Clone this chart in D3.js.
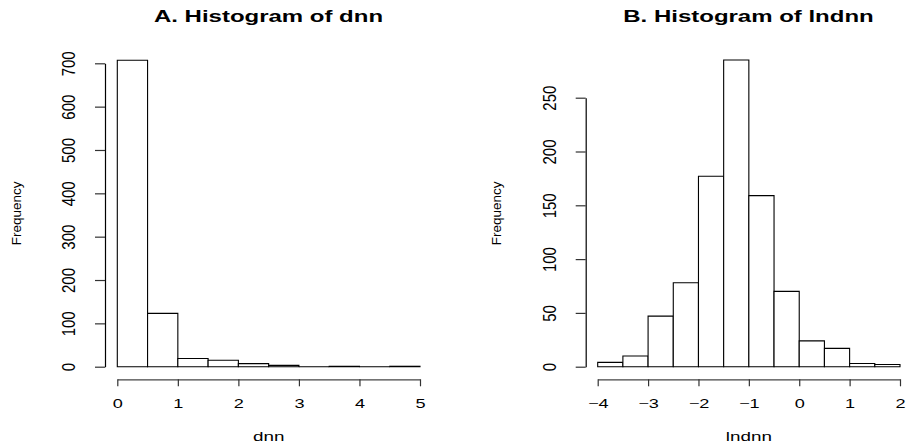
<!DOCTYPE html>
<html>
<head>
<meta charset="utf-8">
<script src="https://cdn.jsdelivr.net/npm/d3@7"></script>
<style>
  html, body { margin: 0; padding: 0; background: #fff; }
  svg { display: block; }
  text { font-family: "Liberation Sans", Arial, Helvetica, sans-serif; fill: #000; }
</style>
</head>
<body>
<svg id="chart" width="907" height="444"></svg>
<script>
// Histogram counts, bin width 0.5
const dnnBreaks = [0, 0.5, 1, 1.5, 2, 2.5, 3, 3.5, 4, 4.5, 5];
const dnnCounts = [707, 123, 19, 15, 7, 3, 0, 1, 0, 1];
const dnnXTicks = [0, 1, 2, 3, 4, 5];
const dnnYTicks = [0, 100, 200, 300, 400, 500, 600, 700];

const lndnnBreaks = [-4, -3.5, -3, -2.5, -2, -1.5, -1, -0.5, 0, 0.5, 1, 1.5, 2];
const lndnnCounts = [4, 10, 47, 78, 177, 285, 159, 70, 24, 17, 3, 2];
const lndnnXTicks = [-4, -3, -2, -1, 0, 1, 2];
const lndnnYTicks = [0, 50, 100, 150, 200, 250];

const panels = [
  {
    title: "A. Histogram of dnn", xlab: "dnn", ylab: "Frequency",
    breaks: dnnBreaks, counts: dnnCounts, xTicks: dnnXTicks, yTicks: dnnYTicks,
    xDomain: [0, 5], xRange: [117.3, 420], yDomain: [0, 700], yRange: [366.7, 63.3],
    axisX: 105, axisY: 379.3, titleX: 268.5, ylabX: 21
  },
  {
    title: "B. Histogram of lndnn", xlab: "lndnn", ylab: "Frequency",
    breaks: lndnnBreaks, counts: lndnnCounts, xTicks: lndnnXTicks, yTicks: lndnnYTicks,
    xDomain: [-4, 2], xRange: [597.7, 900], yDomain: [0, 250], yRange: [366.7, 97.7],
    axisX: 585.7, axisY: 379.3, titleX: 748.5, ylabX: 501
  }
];

const svg = d3.select("#chart");
const SX = 1.45;   // horizontal text stretch
const RK = 1.25;   // stretch across rotated tick labels

panels.forEach(p => {
  const x = d3.scaleLinear().domain(p.xDomain).range(p.xRange);
  const y = d3.scaleLinear().domain(p.yDomain).range(p.yRange);
  const g = svg.append("g");

  // bars (drawn as closed paths so empty bins still show their base line)
  const bins = p.counts.map((c, i) => ({ x0: p.breaks[i], x1: p.breaks[i + 1], n: c }));
  g.selectAll("path.bar").data(bins).enter().append("path")
    .attr("class", "bar")
    .attr("d", d => {
      const l = x(d.x0), r = x(d.x1), b = y(0), t = y(d.n);
      return `M${l},${b}L${l},${t}L${r},${t}L${r},${b}Z`;
    })
    .attr("fill", "#fff")
    .attr("stroke", "#000")
    .attr("stroke-width", 1.1);

  // x axis
  const xAxis = g.append("g")
    .attr("transform", `translate(0,${p.axisY})`)
    .call(d3.axisBottom(x).tickValues(p.xTicks).tickSize(7).tickSizeOuter(0)
      .tickFormat(d => d < 0 ? "\u2212" + Math.abs(d) : String(d)));
  xAxis.select(".domain").attr("stroke", "#444").attr("stroke-width", 1.2);
  xAxis.selectAll(".tick line").attr("stroke", "#333").attr("stroke-width", 1.2);
  xAxis.selectAll(".tick text")
    .attr("y", null).attr("dy", null)
    .attr("transform", `translate(0,29) scale(${SX},1)`)
    .attr("font-size", 12.5)
    .attr("fill", "#000");

  // y axis with rotated labels
  const yAxis = g.append("g")
    .attr("transform", `translate(${p.axisX},0)`)
    .call(d3.axisLeft(y).tickValues(p.yTicks).tickSize(10).tickSizeOuter(0));
  yAxis.select(".domain").attr("stroke", "#000").attr("stroke-width", 1.2);
  yAxis.selectAll(".tick line").attr("stroke", "#333").attr("stroke-width", 1.2);
  yAxis.selectAll(".tick text")
    .attr("x", 0).attr("y", -30 / RK).attr("dy", null)
    .attr("text-anchor", "middle")
    .attr("transform", `rotate(-90) scale(1,${RK})`)
    .attr("font-size", 15)
    .attr("fill", "#000");
  g.selectAll(".tick text").style("font-family", '"Liberation Sans", Arial, Helvetica, sans-serif');

  // title
  g.append("text")
    .attr("transform", `translate(${p.titleX},22) scale(1.5,1)`)
    .attr("text-anchor", "middle")
    .attr("font-weight", "bold")
    .attr("font-size", 16)
    .text(p.title);

  // x label
  g.append("text")
    .attr("transform", `translate(${(p.xRange[0] + p.xRange[1]) / 2},441) scale(${SX},1)`)
    .attr("text-anchor", "middle")
    .attr("font-size", 13)
    .text(p.xlab);

  // y label
  g.append("text")
    .attr("transform", `translate(${p.ylabX},213.3) rotate(-90)`)
    .attr("text-anchor", "middle")
    .attr("font-size", 13.5)
    .text(p.ylab);
});
</script>
</body>
</html>
